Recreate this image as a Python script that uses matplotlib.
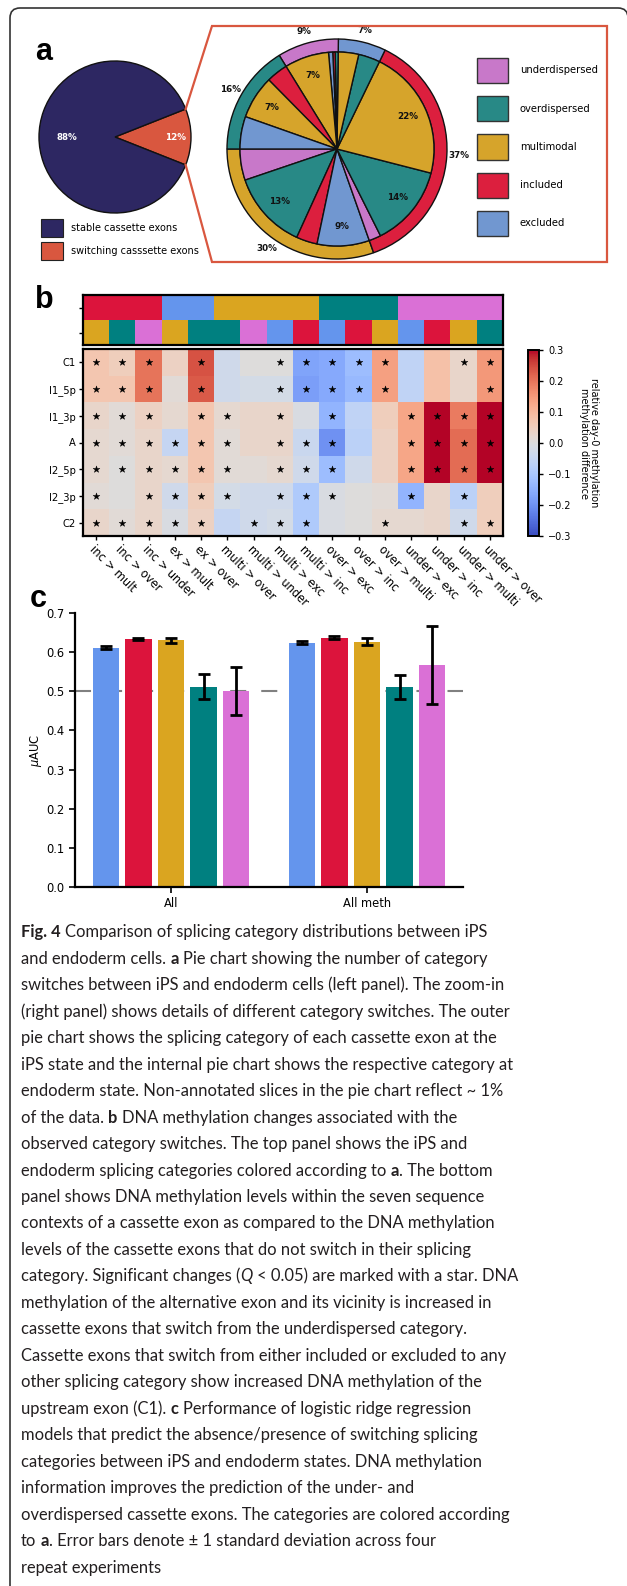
import re
import numpy as np
import matplotlib
matplotlib.use("Agg")
import matplotlib.pyplot as plt
from matplotlib.patches import Patch, FancyBboxPatch
from matplotlib.colors import ListedColormap
from matplotlib.lines import Line2D
from matplotlib.transforms import IdentityTransform

# ======================= DATA =======================
overview_labels = ["switching casssette exons", "stable cassette exons"]
overview_values = [12, 88]

category_names = ["underdispersed", "overdispersed", "multimodal", "included", "excluded"]

# outer ring = iPS category of switching exons (counter-clockwise from 9 o'clock)
outer_cats = ["multimodal", "included", "excluded", "underdispersed", "overdispersed"]
outer_values = [30.4, 37.4, 7.0, 9.0, 16.2]

# inner pie = endoderm category
inner_cats = ["underdispersed", "overdispersed", "included", "excluded",
              "underdispersed", "overdispersed", "multimodal",
              "overdispersed", "multimodal",
              "overdispersed", "included", "excluded", "multimodal",
              "included", "multimodal", "excluded"]
inner_values = [5.2, 13.0, 3.5, 8.7,
                2.0, 13.6, 21.8,
                3.6, 3.4,
                0.5, 0.4, 0.7, 7.4,
                3.6, 7.2, 5.4]

heat_rows = ["C1", "I1_5p", "I1_3p", "A", "I2_5p", "I2_3p", "C2"]
switch_labels = ["inc > mult", "inc > over", "inc > under", "ex > mult", "ex > over",
                 "multi > over", "multi > under", "multi > exc", "multi > inc",
                 "over > exc", "over > inc", "over > multi",
                 "under > exc", "under > inc", "under > multi", "under > over"]
ips_category = ["included"] * 3 + ["excluded"] * 2 + ["multimodal"] * 4 + \
               ["overdispersed"] * 3 + ["underdispersed"] * 4
endo_category = ["multimodal", "overdispersed", "underdispersed", "multimodal", "overdispersed",
                 "overdispersed", "underdispersed", "excluded", "included",
                 "excluded", "included", "multimodal",
                 "excluded", "included", "multimodal", "overdispersed"]

meth_C1 = [0.07, 0.05, 0.20, 0.04, 0.24, -0.03, 0.00, 0.00, -0.17, -0.16, -0.12, 0.14, -0.06, 0.08, 0.03, 0.15]
meth_I1_5p = [0.07, 0.07, 0.20, 0.01, 0.23, -0.03, -0.02, -0.02, -0.18, -0.16, -0.13, 0.14, -0.06, 0.08, 0.03, 0.15]
meth_I1_3p = [0.03, 0.01, 0.04, 0.02, 0.07, 0.02, 0.03, 0.03, -0.01, -0.14, -0.06, 0.05, 0.13, 0.30, 0.19, 0.30]
meth_A = [0.02, 0.01, 0.03, -0.05, 0.07, 0.01, 0.03, 0.03, -0.04, -0.20, -0.07, 0.04, 0.13, 0.30, 0.21, 0.30]
meth_I2_5p = [0.02, 0.00, 0.03, 0.02, 0.07, 0.01, 0.01, 0.02, -0.03, -0.12, -0.03, 0.04, 0.13, 0.30, 0.21, 0.30]
meth_I2_3p = [0.01, 0.00, 0.03, -0.03, 0.05, -0.02, -0.03, -0.03, -0.09, -0.01, 0.00, 0.01, -0.14, 0.03, -0.07, 0.05]
meth_C2 = [0.03, 0.01, 0.03, -0.01, 0.04, -0.05, -0.03, -0.02, -0.09, -0.01, 0.00, 0.02, 0.02, 0.03, -0.03, 0.05]

sig_C1 = [1, 1, 1, 0, 1, 0, 0, 1, 1, 1, 1, 1, 0, 0, 1, 1]
sig_I1_5p = [1, 1, 1, 0, 1, 0, 0, 1, 1, 1, 1, 1, 0, 0, 0, 1]
sig_I1_3p = [1, 1, 1, 0, 1, 1, 0, 1, 0, 1, 0, 0, 1, 1, 1, 1]
sig_A = [1, 1, 1, 1, 1, 1, 0, 1, 1, 1, 0, 0, 1, 1, 1, 1]
sig_I2_5p = [1, 1, 1, 1, 1, 1, 0, 1, 1, 1, 0, 0, 1, 1, 1, 1]
sig_I2_3p = [1, 0, 1, 1, 1, 1, 0, 1, 1, 1, 0, 0, 1, 0, 1, 0]
sig_C2 = [1, 1, 1, 1, 1, 0, 1, 1, 1, 0, 0, 1, 0, 0, 1, 1]

cbar_ticks = [0.3, 0.2, 0.1, 0.0, -0.1, -0.2, -0.3]
cbar_label = "relative day-0 methylation\nmethylation difference"

bar_groups = ["All", "All meth"]
bar_cats = ["excluded", "included", "multimodal", "overdispersed", "underdispersed"]
auc_all = [0.611, 0.634, 0.630, 0.512, 0.501]
auc_all_sd = [0.004, 0.003, 0.007, 0.031, 0.061]
auc_meth = [0.624, 0.637, 0.627, 0.511, 0.568]
auc_meth_sd = [0.004, 0.003, 0.010, 0.031, 0.100]
auc_ticks = [0.0, 0.1, 0.2, 0.3, 0.4, 0.5, 0.6, 0.7]
chance_level = 0.5

caption_lines = [
    "**Fig. 4** Comparison of splicing category distributions between iPS",
    "and endoderm cells. **a** Pie chart showing the number of category",
    "switches between iPS and endoderm cells (left panel). The zoom-in",
    "(right panel) shows details of different category switches. The outer",
    "pie chart shows the splicing category of each cassette exon at the",
    "iPS state and the internal pie chart shows the respective category at",
    "endoderm state. Non-annotated slices in the pie chart reflect ~ 1%",
    "of the data. **b** DNA methylation changes associated with the",
    "observed category switches. The top panel shows the iPS and",
    "endoderm splicing categories colored according to **a**. The bottom",
    "panel shows DNA methylation levels within the seven sequence",
    "contexts of a cassette exon as compared to the DNA methylation",
    "levels of the cassette exons that do not switch in their splicing",
    "category. Significant changes (__Q__ < 0.05) are marked with a star. DNA",
    "methylation of the alternative exon and its vicinity is increased in",
    "cassette exons that switch from the underdispersed category.",
    "Cassette exons that switch from either included or excluded to any",
    "other splicing category show increased DNA methylation of the",
    "upstream exon (C1). **c** Performance of logistic ridge regression",
    "models that predict the absence/presence of switching splicing",
    "categories between iPS and endoderm states. DNA methylation",
    "information improves the prediction of the under- and",
    "overdispersed cassette exons. The categories are colored according",
    "to **a**. Error bars denote ± 1 standard deviation across four",
    "repeat experiments",
]

# ======================= STYLE =======================
pie_colors = {"underdispersed": "#c878c9", "overdispersed": "#288986", "multimodal": "#d6a42b",
              "included": "#dc1f3e", "excluded": "#7197d0"}
strong_colors = {"underdispersed": "orchid", "overdispersed": "teal", "multimodal": "goldenrod",
                 "included": "crimson", "excluded": "cornflowerblue"}
overview_colors = ["#d9573f", "#2d2762"]
zoom_color = "#d9573f"

W, H = 627, 1586
DPI = 100
fig = plt.figure(figsize=(W / DPI, H / DPI), dpi=DPI)
plt.rcParams["font.family"] = "DejaVu Sans"


def add_ax(l, t, r, b):
    return fig.add_axes([l / W, 1 - b / H, (r - l) / W, (b - t) / H])


def pie_ax(cx, cy, R, pad=1.04):
    return add_ax(cx - R * pad, cy - R * pad, cx + R * pad, cy + R * pad)


def finish_pie(ax, pad=1.04):
    ax.set_xlim(-pad, pad)
    ax.set_ylim(-pad, pad)
    ax.set_aspect("equal")
    ax.axis("off")


# ---------------- frame ----------------
frame = FancyBboxPatch((10, -60), 618, H - 8 + 60, boxstyle="round,pad=0,rounding_size=10",
                       transform=IdentityTransform(), facecolor="none", edgecolor="#333333",
                       linewidth=1.2, clip_on=False)
fig.add_artist(frame)

# panel letters
for letter, x, yb in [("a", 35, 60), ("b", 35, 308), ("c", 30, 607)]:
    fig.text(x / W, 1 - yb / H, letter, fontsize=22, fontweight="bold",
             family="Liberation Sans", va="baseline", ha="left")

# ---------------- panel a : overview pie ----------------
lcx, lcy, lR = 115, 137, 76
ax_l = pie_ax(lcx, lcy, lR)
half = overview_values[0] / sum(overview_values) * 180
wl, tl, al = ax_l.pie(overview_values, colors=overview_colors, startangle=-half,
                      autopct="%1.0f%%", pctdistance=0.8,
                      wedgeprops=dict(edgecolor="#111111", linewidth=1),
                      textprops=dict(color="white", fontweight="bold", fontsize=6.3))
# large slice label sits closer to the centre
px, py = al[1].get_position()
al[1].set_position((px * 0.63 / 0.8, py * 0.63 / 0.8))
finish_pie(ax_l)

fig.legend([Patch(facecolor=overview_colors[1], edgecolor="#222222", linewidth=0.8),
            Patch(facecolor=overview_colors[0], edgecolor="#222222", linewidth=0.8)],
           [overview_labels[1], overview_labels[0]],
           loc="upper left", bbox_to_anchor=(41 / W, 1 - 219 / H), frameon=False,
           fontsize=7, borderpad=0, borderaxespad=0, handlelength=2.29, handleheight=2.48,
           labelspacing=0.46, handletextpad=0.75)

# ---------------- panel a : nested pie ----------------
rcx, rcy, rR = 337, 149, 110
ax_r = pie_ax(rcx, rcy, rR)
ring_w = 13 / 110
wo, to, ao = ax_r.pie(outer_values, colors=[pie_colors[c] for c in outer_cats], radius=1,
                      startangle=180, autopct=lambda p: f"{p:.0f}%", pctdistance=1.11,
                      wedgeprops=dict(width=ring_w, edgecolor="#111111", linewidth=1),
                      textprops=dict(fontsize=6.3, fontweight="bold", color="#111111"))
wi, ti, ai = ax_r.pie(inner_values, colors=[pie_colors[c] for c in inner_cats], radius=1 - ring_w,
                      startangle=180, autopct=lambda p: f"{p:.0f}%" if p >= 6.5 else "",
                      pctdistance=0.8,
                      wedgeprops=dict(edgecolor="#111111", linewidth=1),
                      textprops=dict(fontsize=6.3, fontweight="bold", color="#111111"))
finish_pie(ax_r)

fig.legend([Patch(facecolor=pie_colors[c], edgecolor="#333333", linewidth=1) for c in category_names],
           category_names, loc="upper left", bbox_to_anchor=(477 / W, 1 - 58 / H), frameon=False,
           fontsize=7.2, borderpad=0, borderaxespad=0, handlelength=3.1, handleheight=3.5,
           labelspacing=1.3, handletextpad=1.2)

# zoom connector
w_sw = wl[0]
th1, th2 = np.deg2rad(w_sw.theta1), np.deg2rad(w_sw.theta2)
p_bot = ax_l.transData.transform((np.cos(th1), np.sin(th1)))
p_top = ax_l.transData.transform((np.cos(th2), np.sin(th2)))
box_l, box_t, box_r, box_b = 212, 26, 607, 262
xs = [p_top[0], box_l, box_r, box_r, box_l, p_bot[0]]
ys = [p_top[1], H - box_t, H - box_t, H - box_b, H - box_b, p_bot[1]]
fig.add_artist(Line2D(xs, ys, transform=IdentityTransform(), color=zoom_color, linewidth=1.6,
                      solid_joinstyle="miter"))

# ---------------- panel b ----------------
cat_index = {c: i for i, c in enumerate(category_names)}
strip_cmap = ListedColormap([strong_colors[c] for c in category_names])
ax_s = add_ax(83, 295, 503, 345)
strip = np.array([[cat_index[c] for c in ips_category], [cat_index[c] for c in endo_category]])
ax_s.imshow(strip, cmap=strip_cmap, vmin=-0.5, vmax=len(category_names) - 0.5, aspect="auto",
            interpolation="nearest")
ax_s.set_xticks([])
ax_s.set_yticks([0, 1])
ax_s.set_yticklabels(["", ""])
ax_s.tick_params(axis="y", length=3, width=1)
for sp in ax_s.spines.values():
    sp.set_linewidth(1.6)

ax_h = add_ax(83, 349, 503, 536)
meth = np.array([meth_C1, meth_I1_5p, meth_I1_3p, meth_A, meth_I2_5p, meth_I2_3p, meth_C2])
sig = np.array([sig_C1, sig_I1_5p, sig_I1_3p, sig_A, sig_I2_5p, sig_I2_3p, sig_C2])
im = ax_h.imshow(meth, cmap="coolwarm", vmin=-0.3, vmax=0.3, aspect="auto", interpolation="nearest")
rr, cc = np.nonzero(sig)
ax_h.scatter(cc, rr, marker="*", s=26, color="black", linewidths=0.3, edgecolors="black")
ax_h.set_yticks(range(len(heat_rows)))
ax_h.set_yticklabels(heat_rows, fontsize=7.2)
ax_h.set_xticks(range(len(switch_labels)))
ax_h.set_xticklabels(switch_labels, fontsize=8.3, rotation=-45, ha="left", va="top",
                     rotation_mode="anchor")
ax_h.tick_params(axis="both", length=3, width=1, pad=2)
for sp in ax_h.spines.values():
    sp.set_linewidth(1.6)

cax = add_ax(528, 350, 539, 536)
cb = fig.colorbar(im, cax=cax, ticks=cbar_ticks)
cb.ax.tick_params(labelsize=7, length=3, width=1)
cb.outline.set_linewidth(1.4)
cb.set_label(cbar_label, rotation=270, fontsize=7, labelpad=20, linespacing=1.1)

# ---------------- panel c ----------------
ax_c = add_ax(75, 613, 463, 887)
n = len(bar_cats)
step, bw = 0.166, 0.136
for g, (vals, sds) in enumerate([(auc_all, auc_all_sd), (auc_meth, auc_meth_sd)]):
    xpos = g + (np.arange(n) - (n - 1) / 2) * step
    ax_c.bar(xpos, vals, width=bw, color=[strong_colors[c] for c in bar_cats], zorder=2)
    ax_c.errorbar(xpos, vals, yerr=sds, fmt="none", ecolor="black", elinewidth=2,
                  capsize=4, capthick=2, zorder=3)
ax_c.axhline(chance_level, color="gray", linewidth=1.5, linestyle=(0, (7.7, 7.2)), zorder=1)
ax_c.set_xlim(-0.49, 1.49)
ax_c.set_ylim(0, 0.7)
ax_c.set_yticks(auc_ticks)
ax_c.set_yticklabels([f"{t:.1f}" for t in auc_ticks], fontsize=8.3)
ax_c.set_xticks(range(len(bar_groups)))
ax_c.set_xticklabels(bar_groups, fontsize=8.3)
ax_c.set_ylabel(r"$\mu$AUC", fontsize=8.3, labelpad=2)
ax_c.spines["top"].set_visible(False)
ax_c.spines["right"].set_visible(False)
ax_c.spines["left"].set_linewidth(1.6)
ax_c.spines["bottom"].set_linewidth(1.6)
ax_c.tick_params(axis="both", length=4, width=1.2)

# ---------------- caption ----------------
renderer = fig.canvas.get_renderer()
cap_font = "Lato"
cap_color = "#231f20"


def style_kw(st, fs):
    kw = dict(family=cap_font, fontsize=fs, color=cap_color)
    if st == "b":
        kw["fontweight"] = "bold"
    elif st == "i":
        kw["fontstyle"] = "italic"
    return kw


_meas_cache = {}


def meas(s, kw):
    key = (s, tuple(sorted(kw.items())))
    if key not in _meas_cache:
        t = fig.text(0, 0, s, **kw)
        _meas_cache[key] = t.get_window_extent(renderer).width
        t.remove()
    return _meas_cache[key]


def parse(line):
    parts = re.split(r"(\*\*.+?\*\*|__.+?__)", line)
    segs = []
    for p in parts:
        if not p:
            continue
        if p.startswith("**"):
            segs.append((p[2:-2], "b"))
        elif p.startswith("__"):
            segs.append((p[2:-2], "i"))
        else:
            segs.append((p, "r"))
    return segs


def layout(segs, fs, x0, yb, draw):
    rk = style_kw("r", fs)
    sp = meas("x x", rk) - meas("xx", rk)
    x = x0
    for txt, st in segs:
        kw = style_kw(st, fs)
        lead = len(txt) - len(txt.lstrip(" "))
        trail = len(txt) - len(txt.rstrip(" "))
        core = txt.strip(" ")
        x += lead * sp
        if core:
            if draw:
                fig.text(x / W, 1 - yb / H, core, va="baseline", ha="left", **kw)
            x += meas(core, kw)
        x += trail * sp
    return x - x0


ref_w = 487 - 21
w10 = layout(parse(caption_lines[0]), 10, 21, 0, False)
cap_fs = 10 * ref_w / w10
for k, line in enumerate(caption_lines):
    layout(parse(line), cap_fs, 21, 937.3 + 26.47 * k, True)

fig.savefig("out.png", dpi=DPI)
